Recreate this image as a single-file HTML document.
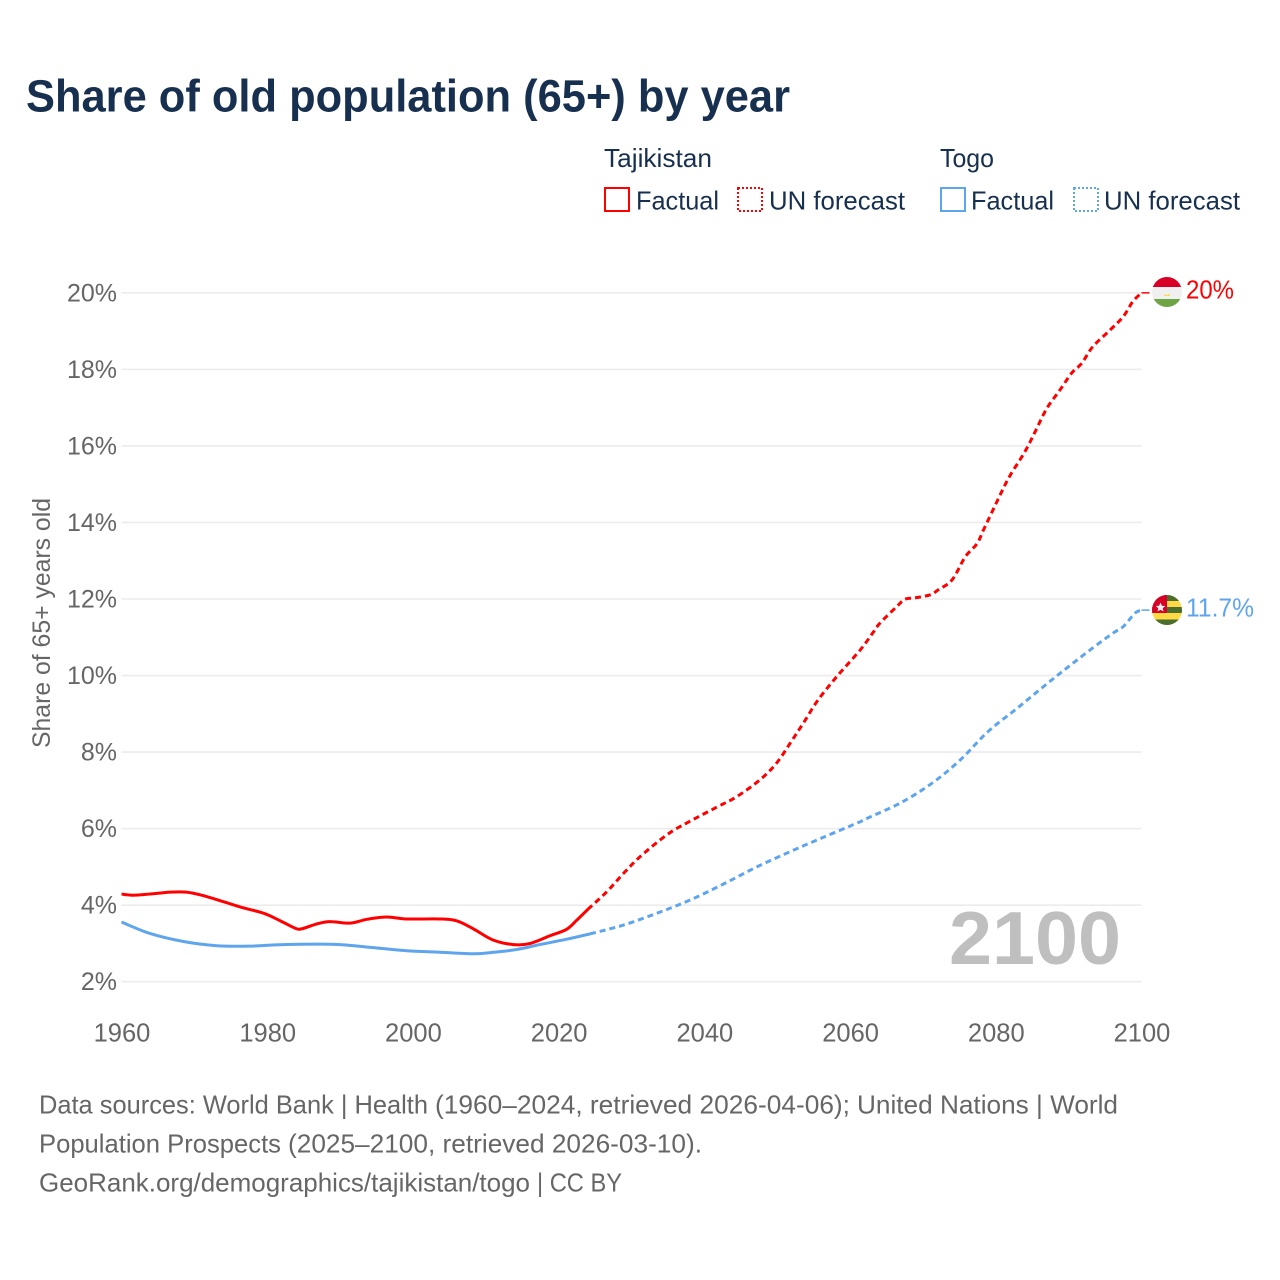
<!DOCTYPE html>
<html lang="en">
<head>
<meta charset="utf-8">
<title>Share of old population (65+) by year</title>
<style>
html,body{margin:0;padding:0;background:#fff;width:1280px;height:1280px;overflow:hidden}
svg{display:block}
text{font-family:"Liberation Sans",sans-serif}
</style>
</head>
<body>
<svg id="chart" width="1280" height="1280" viewBox="0 0 1280 1280" xmlns="http://www.w3.org/2000/svg">
  <rect width="1280" height="1280" fill="#fff"/>
  <text x="26" y="111.5" font-size="45" font-weight="700" fill="#18304f" textLength="764" lengthAdjust="spacingAndGlyphs">Share of old population (65+) by year</text>

  <g>
    <text x="604" y="167" font-size="26" fill="#18304f" textLength="108" lengthAdjust="spacingAndGlyphs">Tajikistan</text>
    <rect x="605" y="188" width="24" height="23" fill="none" stroke="#ff0000" stroke-width="2"/>
    <text x="636" y="209.5" font-size="26" fill="#18304f" textLength="83" lengthAdjust="spacingAndGlyphs">Factual</text>
    <rect x="738" y="188" width="24" height="23" fill="none" stroke="#ff0000" stroke-width="2" stroke-dasharray="2 2"/>
    <text x="769" y="209.5" font-size="26" fill="#18304f" textLength="136" lengthAdjust="spacingAndGlyphs">UN forecast</text>
    <text x="940" y="167" font-size="26" fill="#18304f" textLength="54" lengthAdjust="spacingAndGlyphs">Togo</text>
    <rect x="941" y="188" width="24" height="23" fill="none" stroke="#5fa5ee" stroke-width="2"/>
    <text x="971" y="209.5" font-size="26" fill="#18304f" textLength="83" lengthAdjust="spacingAndGlyphs">Factual</text>
    <rect x="1074" y="188" width="24" height="23" fill="none" stroke="#5fa5ee" stroke-width="2" stroke-dasharray="2 2"/>
    <text x="1104" y="209.5" font-size="26" fill="#18304f" textLength="136" lengthAdjust="spacingAndGlyphs">UN forecast</text>
  </g>

  <text transform="translate(50,623) rotate(-90)" text-anchor="middle" font-size="25" fill="#666" textLength="250" lengthAdjust="spacingAndGlyphs">Share of 65+ years old</text>

  <g id="grid"></g>
  <g id="yticks"></g>
  <g id="xticks"></g>

  <text x="949" y="964" font-size="75" font-weight="700" fill="#bfbfbf" textLength="172" lengthAdjust="spacingAndGlyphs">2100</text>

  <g id="series"></g>

  <defs>
    <clipPath id="flag-clip-tj"><circle cx="1167" cy="292" r="15"/></clipPath>
    <clipPath id="flag-clip-tg"><circle cx="1167" cy="610" r="15"/></clipPath>
  </defs>
  <g clip-path="url(#flag-clip-tj)">
    <rect x="1152" y="277" width="30" height="10" fill="#d80027"/>
    <rect x="1152" y="287" width="30" height="12" fill="#f0f0f0"/>
    <rect x="1152" y="299" width="30" height="9" fill="#6da544"/>
    <path d="M1164 296 l1-2 2 1.2 2-1.2 1 2z" fill="#ffda44"/>
  </g>
  <g clip-path="url(#flag-clip-tg)">
    <rect x="1152" y="595" width="30" height="31" fill="#ffda44"/>
    <rect x="1152" y="595" width="30" height="6" fill="#496e2d"/>
    <rect x="1152" y="607" width="30" height="6" fill="#496e2d"/>
    <rect x="1152" y="619.5" width="30" height="6.5" fill="#496e2d"/>
    <rect x="1152" y="595" width="15" height="18" fill="#d80027"/>
    <path d="M1160.5 602.5l1.4 3.2 3.4.3-2.6 2.2.8 3.3-3-1.8-3 1.8.8-3.3-2.6-2.2 3.4-.3z" fill="#f0f0f0"/>
  </g>
  <text x="1186" y="298.5" font-size="26" fill="#ff0000" textLength="48" lengthAdjust="spacingAndGlyphs">20%</text>
  <text x="1186" y="616.5" font-size="26" fill="#5fa5ee" textLength="68" lengthAdjust="spacingAndGlyphs">11.7%</text>

  <g font-size="26" fill="#666">
    <text y="1113.5"><tspan x="39" textLength="389" lengthAdjust="spacingAndGlyphs">Data sources: World Bank | Health</tspan> <tspan x="435" textLength="415" lengthAdjust="spacingAndGlyphs">(1960–2024, retrieved 2026-04-06);</tspan> <tspan x="857" textLength="261" lengthAdjust="spacingAndGlyphs">United Nations | World</tspan></text>
    <text y="1152.5"><tspan x="39" textLength="242" lengthAdjust="spacingAndGlyphs">Population Prospects</tspan> <tspan x="288" textLength="414" lengthAdjust="spacingAndGlyphs">(2025–2100, retrieved 2026-03-10).</tspan></text>
    <text y="1191.5"><tspan x="39" textLength="491" lengthAdjust="spacingAndGlyphs">GeoRank.org/demographics/tajikistan/togo</tspan> <tspan x="537" textLength="85" lengthAdjust="spacingAndGlyphs">| CC BY</tspan></text>
  </g>
</svg>
<script>
const yTickValues = [2, 4, 6, 8, 10, 12, 14, 16, 18, 20];
const xTickYears = [1960, 1980, 2000, 2020, 2040, 2060, 2080, 2100];

const tjFactualYears = [1960, 1961.6, 1963.9, 1966.7, 1968.9, 1971.2, 1974, 1976.7, 1979.5, 1981.8, 1983.8, 1984.7, 1986.8, 1988.6, 1991.4, 1993.7, 1996.4, 1999.1, 2003.7, 2006, 2008.3, 2011, 2013.8, 2016.1, 2018.8, 2021.1, 2022.5, 2024];
const tjFactualValues = [4.29, 4.26, 4.29, 4.34, 4.34, 4.25, 4.09, 3.93, 3.79, 3.59, 3.40, 3.38, 3.51, 3.57, 3.53, 3.63, 3.69, 3.64, 3.64, 3.59, 3.38, 3.09, 2.97, 3.00, 3.20, 3.37, 3.61, 3.89];

const tjForecastYears = [2024, 2026.6, 2028.9, 2031.2, 2034.8, 2037.6, 2041.7, 2044.4, 2047.6, 2049.9, 2051.8, 2053.6, 2055.6, 2058.3, 2061.4, 2063.1, 2064.1, 2066.4, 2067.5, 2068.9, 2071, 2072.1, 2074, 2075.8, 2077.4, 2078.3, 2079.4, 2080.8, 2082, 2084, 2085.4, 2087, 2088.8, 2090.4, 2091.8, 2093.3, 2095.7, 2097.5, 2098.8, 2100];
const tjForecastValues = [3.89, 4.35, 4.83, 5.27, 5.83, 6.15, 6.56, 6.83, 7.27, 7.71, 8.24, 8.76, 9.36, 10.0, 10.67, 11.11, 11.37, 11.80, 11.99, 12.03, 12.11, 12.24, 12.50, 13.10, 13.44, 13.80, 14.24, 14.80, 15.24, 15.85, 16.37, 16.98, 17.46, 17.90, 18.16, 18.59, 19.03, 19.38, 19.77, 20.0];

const tgFactualYears = [1960, 1963.9, 1968.5, 1973.1, 1977.6, 1982.2, 1988.6, 1991.4, 1994.6, 1999.1, 2003.7, 2008.3, 2010.6, 2014.2, 2017.4, 2021.1, 2024.3];
const tgFactualValues = [3.56, 3.26, 3.05, 2.94, 2.93, 2.97, 2.98, 2.95, 2.89, 2.81, 2.77, 2.73, 2.76, 2.84, 2.97, 3.11, 3.25];

const tgForecastYears = [2024.3, 2028.9, 2033.5, 2038, 2042.6, 2047.2, 2051.8, 2056.3, 2060.9, 2062.7, 2067, 2071.2, 2075.1, 2078.9, 2082.9, 2086.8, 2089.7, 2093.3, 2096.1, 2097.5, 2099.1, 2100];
const tgForecastValues = [3.25, 3.48, 3.79, 4.13, 4.55, 5.00, 5.40, 5.77, 6.14, 6.30, 6.68, 7.18, 7.79, 8.53, 9.14, 9.75, 10.19, 10.72, 11.11, 11.28, 11.63, 11.71];

const NS = 'http://www.w3.org/2000/svg';
const xScale = function (year) { return 121.5 + (year - 1960) * (1020 / 140); };
const yScale = function (pct) { return 981.7 - (pct - 2) * 38.27; };

function smoothPath(years, values) {
  const pts = years.map(function (yr, i) { return [xScale(yr), yScale(values[i])]; });
  let d = 'M' + pts[0][0].toFixed(2) + ' ' + pts[0][1].toFixed(2);
  for (let i = 0; i < pts.length - 1; i++) {
    const p0 = pts[Math.max(i - 1, 0)];
    const p1 = pts[i];
    const p2 = pts[i + 1];
    const p3 = pts[Math.min(i + 2, pts.length - 1)];
    const c1x = p1[0] + (p2[0] - p0[0]) / 6;
    const c1y = p1[1] + (p2[1] - p0[1]) / 6;
    const c2x = p2[0] - (p3[0] - p1[0]) / 6;
    const c2y = p2[1] - (p3[1] - p1[1]) / 6;
    d += 'C' + c1x.toFixed(2) + ' ' + c1y.toFixed(2) + ' ' + c2x.toFixed(2) + ' ' + c2y.toFixed(2) + ' ' + p2[0].toFixed(2) + ' ' + p2[1].toFixed(2);
  }
  return d;
}

const grid = document.getElementById('grid');
const yticks = document.getElementById('yticks');
const xticks = document.getElementById('xticks');
const series = document.getElementById('series');

yTickValues.forEach(function (v) {
  const line = document.createElementNS(NS, 'line');
  
  
  line.setAttribute('x1', xScale(1960));
  line.setAttribute('x2', xScale(2100));
  line.setAttribute('y1', yScale(v));
  line.setAttribute('y2', yScale(v));
  line.setAttribute('stroke', '#ececec');
  line.setAttribute('stroke-width', '1.6');
  grid.appendChild(line);

  const label = document.createElementNS(NS, 'text');
  
  
  label.setAttribute('x', '117');
  label.setAttribute('y', yScale(v) + 8.5);
  label.setAttribute('text-anchor', 'end');
  label.setAttribute('font-size', '25');
  label.setAttribute('fill', '#666');
  label.textContent = v + '%';
  yticks.appendChild(label);
});

xTickYears.forEach(function (yr) {
  const label = document.createElementNS(NS, 'text');
  
  
  label.setAttribute('x', xScale(yr) + 0.5);
  label.setAttribute('y', '1041.5');
  label.setAttribute('text-anchor', 'middle');
  label.setAttribute('font-size', '25.5');
  label.setAttribute('fill', '#666');
  label.textContent = String(yr);
  xticks.appendChild(label);
});

function addLine(name, years, values, color, dashed) {
  const path = document.createElementNS(NS, 'path');
  
  
  path.setAttribute('d', smoothPath(years, values));
  path.setAttribute('fill', 'none');
  path.setAttribute('stroke', color);
  path.setAttribute('stroke-width', '3');
  path.setAttribute('stroke-linejoin', 'round');
  if (dashed) {
    path.setAttribute('stroke-dasharray', '6 4');
  }
  series.appendChild(path);
}

function addLeader(name, value, color) {
  const leader = document.createElementNS(NS, 'line');
  
  
  leader.setAttribute('x1', xScale(2100));
  leader.setAttribute('x2', xScale(2100) + 8);
  leader.setAttribute('y1', yScale(value));
  leader.setAttribute('y2', yScale(value));
  leader.setAttribute('stroke', color);
  leader.setAttribute('stroke-width', '1.5');
  series.appendChild(leader);
}

addLine('togo-forecast-line', tgForecastYears, tgForecastValues, '#5fa5ee', true);
addLine('togo-factual-line', tgFactualYears, tgFactualValues, '#5fa5ee', false);
addLine('tajikistan-forecast-line', tjForecastYears, tjForecastValues, '#ff0000', true);
addLine('tajikistan-factual-line', tjFactualYears, tjFactualValues, '#ff0000', false);
addLeader('togo-end-leader', tgForecastValues[tgForecastValues.length - 1], '#5fa5ee');
addLeader('tajikistan-end-leader', tjForecastValues[tjForecastValues.length - 1], '#ff0000');
</script>
</body>
</html>
